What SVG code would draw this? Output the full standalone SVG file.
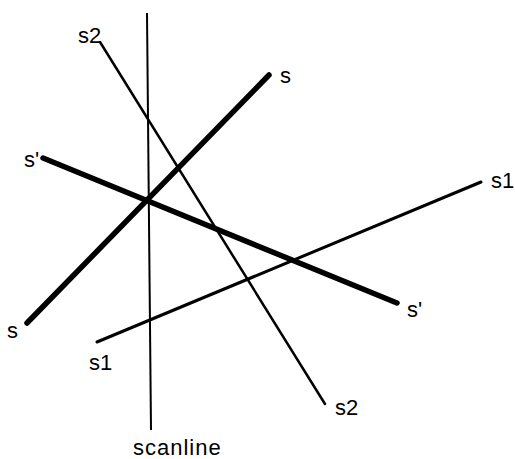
<svg xmlns="http://www.w3.org/2000/svg" width="515" height="459" viewBox="0 0 515 459">
<style>
.thin{stroke:#000;stroke-width:2.5;fill:none;stroke-linecap:round}
.thick{stroke:#000;stroke-width:5.5;fill:none;stroke-linecap:round}
.scan{stroke:#000;stroke-width:2;fill:none}
text{font-family:"Liberation Sans",Arial,sans-serif;font-size:22px;fill:#000}
</style>
<rect width="515" height="459" fill="#fff"/>
<g id="connectors">
<line id="scanline-line" class="scan" x1="147" y1="13" x2="151" y2="430"/>
<line id="s2-line" class="thin" x1="100" y1="42" x2="325" y2="404"/>
<line id="s1-line" class="thin" x1="97" y1="342" x2="481" y2="182" style="stroke-width:3"/>
<line id="s-line" class="thick" x1="269" y1="75" x2="27" y2="323"/>
<line id="sp-line" class="thick" x1="43" y1="158" x2="397" y2="303"/>
</g>
<g id="label-scanline"><text x="133" y="455" letter-spacing="1">scanline</text></g>
<g id="label-s-top"><text x="280" y="83">s</text></g>
<g id="label-s-bottom"><text x="7" y="338">s</text></g>
<g id="label-sp-left"><text x="24" y="167">s'</text></g>
<g id="label-sp-right"><text x="407" y="317">s'</text></g>
<g id="label-s2-top"><text x="78" y="43">s2</text></g>
<g id="label-s2-bottom"><text x="335" y="415">s2</text></g>
<g id="label-s1-right"><text x="491" y="188">s1</text></g>
<g id="label-s1-left"><text x="89" y="370">s1</text></g>
</svg>
